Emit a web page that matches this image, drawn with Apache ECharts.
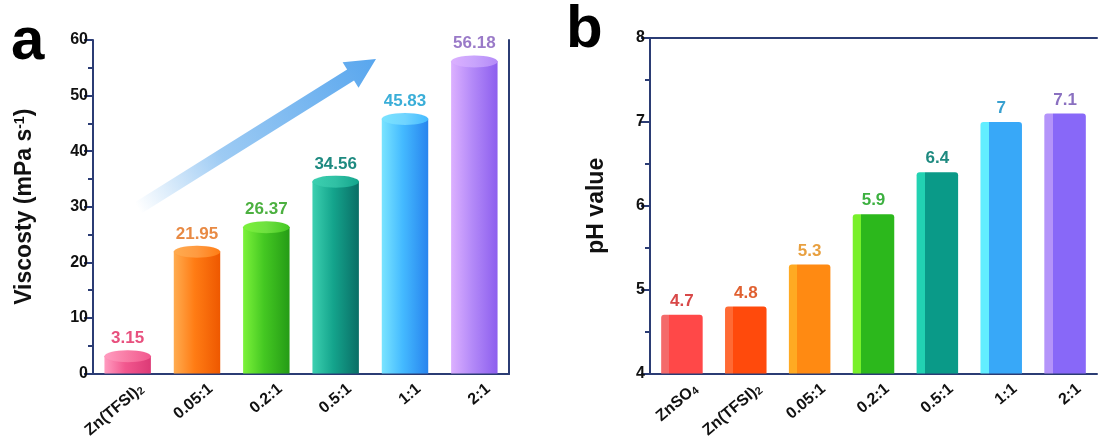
<!DOCTYPE html>
<html>
<head>
<meta charset="utf-8">
<script src="https://cdn.jsdelivr.net/npm/echarts@6/dist/echarts.min.js"></script>
<style>
  html, body { margin: 0; padding: 0; background: #fff; }
  #chart { width: 1100px; height: 441px; }
</style>
</head>
<body>
<div id="chart"></div>
<script>
// Panel a: viscosity of the electrolytes
const catsA = ['Zn(TFSI)2', '0.05:1', '0.2:1', '0.5:1', '1:1', '2:1'];
const viscosity = [3.15, 21.95, 26.37, 34.56, 45.83, 56.18];
const ticksA = [0, 10, 20, 30, 40, 50, 60];

// Panel b: pH of the electrolytes
const catsB = ['ZnSO4', 'Zn(TFSI)2', '0.05:1', '0.2:1', '0.5:1', '1:1', '2:1'];
const ph = [4.7, 4.8, 5.3, 5.9, 6.4, 7.0, 7.1];
const ticksB = [4, 5, 6, 7, 8];

// cylinder palette: [light edge, body, dark edge, cap, label]
const paletteA = [
  ['#ff9cc0', '#f2578e', '#dc3a76', '#f87aa4', '#e8507e'],
  ['#ffac50', '#ff7c14', '#ee5800', '#ff9a40', '#e88a44'],
  ['#7cf23a', '#44c822', '#259c16', '#6ee040', '#4cb040'],
  ['#3cd0b0', '#14a48c', '#0a6e66', '#30c0a4', '#1e8a80'],
  ['#7ae4ff', '#44baff', '#2884ee', '#70d4ff', '#3aaed8'],
  ['#dcb0ff', '#b48af8', '#8c5eee', '#c8a4fc', '#9a7ac8']
];
// prism palette: [left face, front face, label]
const paletteB = [
  ['#f46a6a', '#ff4848', '#d84848'],
  ['#ff6a34', '#ff4a0c', '#e06030'],
  ['#ffaa22', '#ff8a12', '#e8a040'],
  ['#78f02a', '#2cb81c', '#3cb040'],
  ['#22d2b2', '#0a9a88', '#1e8a80'],
  ['#62eeff', '#38a8f8', '#38a0d0'],
  ['#b494fa', '#8868f8', '#8a70c0']
];

const NAVY = '#2b3c74';
const FONT = 'Arial, "Liberation Sans", sans-serif';

function subLabel(v) {
  return v.replace(/([A-Z)])(\d)$/, '$1{s|$2}');
}
const tickRich = {
  s: { fontSize: 11, fontWeight: 'bold', color: '#111', fontFamily: FONT, verticalAlign: 'bottom', padding: [6, 0, 0, 0] }
};

const barsA = viscosity.map((v, i) => ({
  value: v,
  itemStyle: {
    color: {
      type: 'linear', x: 0, y: 0, x2: 1, y2: 0,
      colorStops: [
        { offset: 0, color: paletteA[i][0] },
        { offset: 0.45, color: paletteA[i][1] },
        { offset: 1, color: paletteA[i][2] }
      ]
    }
  },
  label: { color: paletteA[i][4] }
}));
const capsA = viscosity.map((v, i) => ({
  value: v,
  itemStyle: {
    color: {
      type: 'linear', x: 0, y: 0, x2: 1, y2: 0,
      colorStops: [
        { offset: 0, color: paletteA[i][0] },
        { offset: 0.5, color: paletteA[i][3] },
        { offset: 1, color: paletteA[i][1] }
      ]
    },
    borderColor: paletteA[i][1],
    borderWidth: 1
  }
}));
const barsB = ph.map((v, i) => ({
  value: v,
  itemStyle: {
    color: {
      type: 'linear', x: 0, y: 0, x2: 1, y2: 0,
      colorStops: [
        { offset: 0, color: paletteB[i][0] },
        { offset: 0.2, color: paletteB[i][0] },
        { offset: 0.2, color: paletteB[i][1] },
        { offset: 1, color: paletteB[i][1] }
      ]
    },
    borderRadius: [3, 3, 0, 0]
  },
  label: { color: paletteB[i][2] }
}));

const axisLabelY = { color: '#111', fontSize: 16, fontWeight: 'bold', fontFamily: FONT, margin: 5 };
const axisLabelX = {
  color: '#111', fontSize: 16, fontWeight: 'bold', fontFamily: FONT, rotate: 40,
  margin: 25, padding: [0, -18, 0, 0], interval: 0, formatter: subLabel, rich: tickRich
};

const chart = echarts.init(document.getElementById('chart'), null, { renderer: 'canvas' });

// trend arrow across panel a
const tail = [138, 208], tip = [376, 59];
const dx = tip[0] - tail[0], dy = tip[1] - tail[1];
const len = Math.hypot(dx, dy);
const ux = dx / len, uy = dy / len, nx = -uy, ny = ux;
const headLen = 30, shaftW = 6.5, headW = 15;
const bx = tip[0] - headLen * ux, by = tip[1] - headLen * uy;
const arrowPts = [
  [tail[0] + shaftW * nx, tail[1] + shaftW * ny],
  [bx + shaftW * nx, by + shaftW * ny],
  [bx + headW * nx, by + headW * ny],
  tip,
  [bx - headW * nx, by - headW * ny],
  [bx - shaftW * nx, by - shaftW * ny],
  [tail[0] - shaftW * nx, tail[1] - shaftW * ny]
];

chart.setOption({
  animation: false,
  backgroundColor: '#fff',
  grid: [
    { left: 93, top: 40, width: 416, height: 336 },
    { left: 650, top: 38, width: 447, height: 336 }
  ],
  xAxis: [
    {
      gridIndex: 0, type: 'category', data: catsA, position: 'bottom',
      axisLine: { lineStyle: { color: NAVY, width: 2 } },
      axisTick: { alignWithLabel: true, length: 8, lineStyle: { color: NAVY, width: 2 } },
      axisLabel: axisLabelX
    },
    {
      gridIndex: 0, type: 'category', data: catsA, position: 'top',
      axisLine: { lineStyle: { color: NAVY, width: 2 } },
      axisTick: { show: false }, axisLabel: { show: false }
    },
    {
      gridIndex: 1, type: 'category', data: catsB, position: 'bottom',
      axisLine: { lineStyle: { color: NAVY, width: 2 } },
      axisTick: { alignWithLabel: true, length: 9, lineStyle: { color: NAVY, width: 2 } },
      axisLabel: axisLabelX
    },
    {
      gridIndex: 1, type: 'category', data: catsB, position: 'bottom',
      axisLine: { show: false },
      axisTick: { length: 4, lineStyle: { color: NAVY, width: 2 } },
      axisLabel: { show: false }
    },
    {
      gridIndex: 1, type: 'category', data: catsB, position: 'top',
      axisLine: { lineStyle: { color: NAVY, width: 2 } },
      axisTick: { show: false }, axisLabel: { show: false }
    }
  ],
  yAxis: [
    {
      gridIndex: 0, type: 'value', min: ticksA[0], max: ticksA[ticksA.length - 1], interval: ticksA[1] - ticksA[0],
      name: 'Viscosty (mPa s{sup|-1})', nameLocation: 'middle', nameGap: 57,
      nameTextStyle: {
        color: '#111', fontSize: 23, fontWeight: 'bold', fontFamily: FONT,
        rich: { sup: { fontSize: 14, fontWeight: 'bold', color: '#111', fontFamily: FONT, verticalAlign: 'top', padding: [0, 0, 9, 0] } }
      },
      axisLine: { show: true, lineStyle: { color: NAVY, width: 2 } },
      axisTick: { show: true, length: 9, lineStyle: { color: NAVY, width: 2 } },
      minorTick: { show: true, splitNumber: 2, length: 5, lineStyle: { color: NAVY, width: 2 } },
      splitLine: { show: false },
      axisLabel: axisLabelY
    },
    {
      gridIndex: 0, type: 'value', position: 'right', min: ticksA[0], max: ticksA[ticksA.length - 1],
      axisLine: { show: true, lineStyle: { color: NAVY, width: 2 } },
      axisTick: { show: false }, axisLabel: { show: false }, splitLine: { show: false }
    },
    {
      gridIndex: 1, type: 'value', min: ticksB[0], max: ticksB[ticksB.length - 1], interval: ticksB[1] - ticksB[0],
      name: 'pH value', nameLocation: 'middle', nameGap: 42,
      nameTextStyle: { color: '#111', fontSize: 23, fontWeight: 'bold', fontFamily: FONT },
      axisLine: { show: true, lineStyle: { color: NAVY, width: 2 } },
      axisTick: { show: true, length: 9, lineStyle: { color: NAVY, width: 2 } },
      minorTick: { show: true, splitNumber: 2, length: 5, lineStyle: { color: NAVY, width: 2 } },
      splitLine: { show: false },
      axisLabel: axisLabelY
    }
  ],
  series: [
    {
      type: 'bar', xAxisIndex: 0, yAxisIndex: 0, barWidth: '67%', barGap: '-100%',
      data: barsA, z: 2,
      label: { show: true, position: 'top', distance: 9, fontSize: 17, fontWeight: 'bold', fontFamily: FONT }
    },
    {
      type: 'pictorialBar', xAxisIndex: 0, yAxisIndex: 0, barWidth: '67%', barGap: '-100%',
      symbol: 'circle', symbolSize: ['100%', 12], symbolPosition: 'end', symbolOffset: [0, '-50%'],
      data: capsA, z: 3
    },
    {
      type: 'bar', xAxisIndex: 2, yAxisIndex: 2, barWidth: '65%',
      data: barsB, z: 2,
      label: { show: true, position: 'top', distance: 5, fontSize: 17, fontWeight: 'bold', fontFamily: FONT }
    }
  ],
  graphic: [
    {
      type: 'polygon', z: 1,
      shape: { points: arrowPts },
      style: {
        fill: {
          type: 'linear', global: true, x: tail[0], y: tail[1], x2: tip[0], y2: tip[1],
          colorStops: [
            { offset: 0, color: 'rgba(92,168,236,0)' },
            { offset: 0.35, color: 'rgba(92,168,236,0.6)' },
            { offset: 1, color: 'rgba(88,166,238,1)' }
          ]
        }
      }
    },
    {
      type: 'text', left: 11, top: 12,
      style: { text: 'a', fontSize: 60, fontWeight: 'bold', fontFamily: FONT, fill: '#000' }
    },
    {
      type: 'text', left: 566, top: 0,
      style: { text: 'b', fontSize: 60, fontWeight: 'bold', fontFamily: FONT, fill: '#000' }
    }
  ]
});
</script>
</body>
</html>
